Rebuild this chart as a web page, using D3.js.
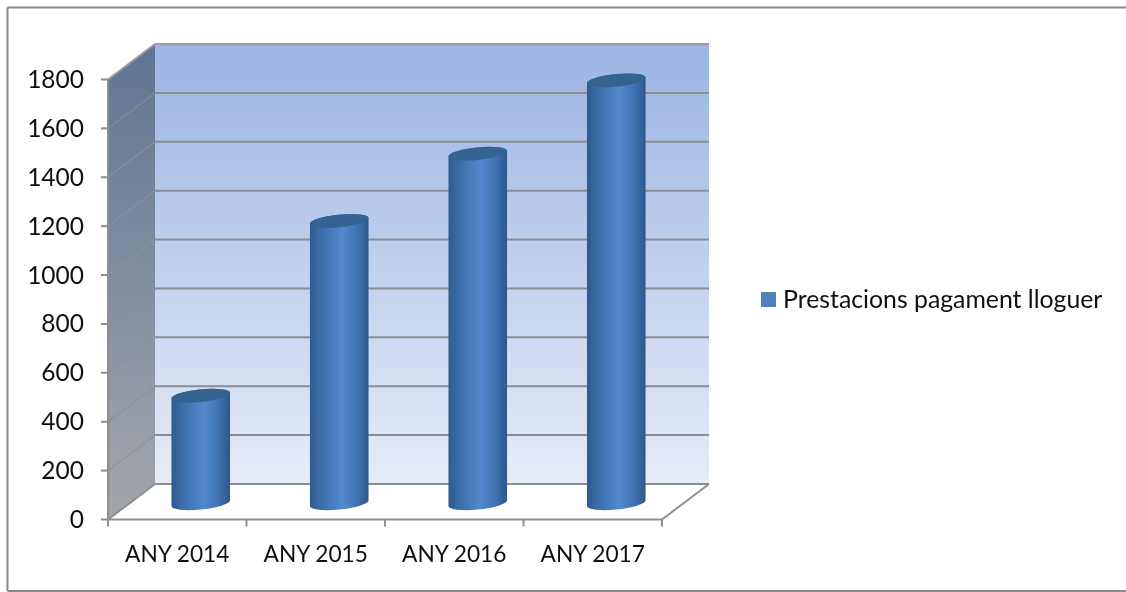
<!DOCTYPE html>
<html><head><meta charset="utf-8">
<script src="https://cdn.jsdelivr.net/npm/d3@7/dist/d3.min.js"></script>
<style>html,body{margin:0;padding:0;background:#fff}svg{display:block}text{font-family:Lato,sans-serif;fill:#111}</style>
</head><body><svg id="c" width="1126" height="592"></svg>
<script>
const categories = ["ANY 2014","ANY 2015","ANY 2016","ANY 2017"];
const seriesName = "Prestacions pagament lloguer";
const values = [440,1155,1430,1730];
const yTicks = [0,200,400,600,800,1000,1200,1400,1600,1800];

const root = d3.select("#c");
const y = d3.scaleLinear().domain([0,1800]).range([519.5,79.5]);
const x = d3.scaleBand().domain(categories).range([108,662]);
const dx = 47, dy = -35.5;
const defs = root.append("defs");
function grad(id,x2,y2,stops){
  const g = defs.append("linearGradient").attr("id",id).attr("x1",0).attr("y1",0).attr("x2",x2).attr("y2",y2);
  stops.forEach(s=>g.append("stop").attr("offset",s[0]).attr("stop-color",s[1]));
}
grad("back",0,1,[[0,"#9ab4e3"],[1,"#e6ecf8"]]);
grad("left",0,1,[[0,"#5f7595"],[1,"#a4a6ab"]]);
grad("bar",1,0,[[0,"#2f5a8c"],[0.18,"#3c6ca8"],[0.55,"#5289ce"],[0.82,"#3f71b0"],[1,"#2c578a"]]);
defs.append("filter").attr("id","soft").attr("x",0).attr("y",0).attr("width",1).attr("height",1)
  .attr("filterUnits","userSpaceOnUse").attr("x",0).attr("y",0).attr("width",1126).attr("height",592)
  .append("feGaussianBlur").attr("stdDeviation",0.45);
const svg = root.append("g").attr("filter","url(#soft)");
svg.append("rect").attr("width",1126).attr("height",592).attr("fill","#fff");

const frame=(a,b,c,d)=>svg.append("line").attr("x1",a).attr("y1",b).attr("x2",c).attr("y2",d).attr("stroke","#8a8a8a").attr("stroke-width",2);
frame(7.5,7.5,1126,7.5);
frame(7.5,7.5,7.5,591);
frame(7.5,591,1126,591);

const X0=x.range()[0], X1=x.range()[1], Y0=y(0), Y1=y(1800);
const poly=p=>svg.append("polygon").attr("points",p.map(q=>q.join(",")).join(" "));
poly([[X0+dx,Y1+dy],[X1+dx,Y1+dy],[X1+dx,Y0+dy],[X0+dx,Y0+dy]]).attr("fill","url(#back)");
poly([[X0,Y1],[X0+dx,Y1+dy],[X0+dx,Y0+dy],[X0,Y0]]).attr("fill","url(#left)");

const gridCol="#8b8d92";
yTicks.forEach(t=>{
  const yy=y(t);
  svg.append("line").attr("x1",X0).attr("y1",yy).attr("x2",X0+dx).attr("y2",yy+dy).attr("stroke",t==1800?"#9a9a9a":"#8f9090").attr("stroke-width",t==1800?2:1.2);
  svg.append("line").attr("x1",X0+dx).attr("y1",yy+dy).attr("x2",X1+dx).attr("y2",yy+dy).attr("stroke",t==1800?"#9c9c9c":gridCol).attr("stroke-width",2);
  svg.append("line").attr("x1",X0-7).attr("y1",yy).attr("x2",X0).attr("y2",yy).attr("stroke","#8c8c8c").attr("stroke-width",2);
  svg.append("text").attr("x",X0-24).attr("y",yy+8.5).attr("text-anchor","end").attr("font-size",24.5).text(t);
});
const edge=(a,b,c,d)=>svg.append("line").attr("x1",a).attr("y1",b).attr("x2",c).attr("y2",d).attr("stroke","#8f8f8f").attr("stroke-width",2);
edge(X0,Y0,X0,Y1);
edge(X0,Y0,X1,Y0);
edge(X1,Y0,X1+dx,Y0+dy);
edge(X0,Y0,X0+dx,Y0+dy);
[...categories.map(c=>x(c)),X1].forEach(t=>edge(t,Y0,t,Y0+7));

const barW=x.bandwidth()*0.425, a=barW/2, b=6.3, tiltDeg=-5.8, th=tiltDeg*Math.PI/180;
const hw=Math.sqrt(a*a*Math.cos(th)**2+b*b*Math.sin(th)**2);
const off=(a*a-b*b)*Math.sin(th)*Math.cos(th)/hw;
categories.forEach((c,i)=>{
  const cx=x(c)+x.bandwidth()/2+dx/2;
  const yb=Y0+dy/2+1.5, yt=y(values[i])+dy/2+1.5;
  const d=`M${cx-hw},${yt-off} L${cx-hw},${yb-off} A${a},${b} ${tiltDeg} 0 0 ${cx+hw},${yb+off} L${cx+hw},${yt+off} A${a},${b} ${tiltDeg} 0 0 ${cx-hw},${yt-off} Z`;
  svg.append("path").attr("d",d).attr("fill","url(#bar)");
  svg.append("ellipse").attr("cx",cx).attr("cy",yt).attr("rx",a).attr("ry",b).attr("transform",`rotate(${tiltDeg} ${cx} ${yt})`).attr("fill","#35628f");
  svg.append("text").attr("x",x(c)+x.bandwidth()/2).attr("y",562).attr("text-anchor","middle").attr("font-size",22.7).text(c);
});

svg.append("rect").attr("x",761).attr("y",292).attr("width",15).attr("height",15).attr("fill","#4f81bd");
svg.append("text").attr("x",783).attr("y",307.5).attr("font-size",24.8).text(seriesName);
</script></body></html>
